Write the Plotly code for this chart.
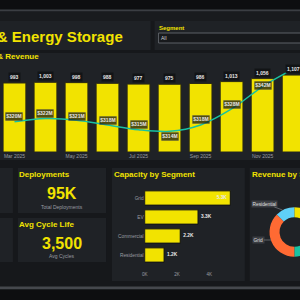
import plotly.graph_objects as go

# ---------------- data ----------------
months = ['Mar 2025', 'Apr 2025', 'May 2025', 'Jun 2025', 'Jul 2025',
          'Aug 2025', 'Sep 2025', 'Oct 2025', 'Nov 2025', 'Dec 2025']
deployments = [993, 1003, 998, 988, 977, 975, 986, 1013, 1056, 1107]
revenue_musd = [320, 322, 321, 318, 315, 314, 318, 328, 342, 353]
month_ticks = months[::2]

segments = ['Grid', 'EV', 'Commercial', 'Residential']
capacity_k = [5.3, 3.3, 2.2, 1.2]
capacity_ticks = [0, 2, 4]

rev_segments = ['Commercial', 'EV', 'Grid', 'Residential']
rev_segment_values = [640, 960, 1200, 400]

kpi_deployments = 95000
kpi_cycle_life = 3500

# ---------------- style ----------------
W, H = 330, 300
FONT = 'Liberation Sans, Arial, sans-serif'
YEL = '#f2e300'
TEAL = '#18c2a2'
ORANGE = '#ff6a33'
LBLUE = '#5fd0f7'
PANEL = '#1f2226'
GAP = '#16181b'
GRAYTXT = '#9a9da2'

rev_label_shift = [5, 5, 4, 4, 5, -5, 5, 4, 1, None]
cap_text_pos = ['inside', 'outside', 'outside', 'outside']
pie_label_pos = {'Residential': (282, 210, -17.5, -6.5), 'Grid': (270.5, 240, -13, 0)}
PADX = 2.5  # compensates the annotation box padding


def px(x):
    return x / W


def py(y):
    return 1 - y / H


def rect(x0, y0, x1, y1, color, line=None):
    return dict(type='rect', xref='paper', yref='paper', layer='below',
                x0=px(x0), x1=px(x1), y0=py(y1), y1=py(y0),
                fillcolor=color,
                line=dict(width=1 if line else 0, color=line or color))


def ann(text, x, y, size, color=YEL, bold=False, xanchor='left'):
    if xanchor == 'left':
        x -= PADX
    return dict(text=text, xref='paper', yref='paper', x=px(x), y=py(y),
                xanchor=xanchor, yanchor='middle', showarrow=False,
                font=dict(family=FONT, size=size, color=color,
                          weight='bold' if bold else 'normal'))


fig = go.Figure()

# main chart
fig.add_trace(go.Bar(x=months, y=deployments, xaxis='x', yaxis='y', width=0.735,
                     marker=dict(color=YEL, line=dict(color='#2b2a12', width=1)),
                     hoverinfo='skip'))
fig.add_trace(go.Scatter(x=months, y=revenue_musd, xaxis='x', yaxis='y2', mode='lines',
                         line=dict(color=TEAL, width=1.5, shape='spline'),
                         hoverinfo='skip'))

# capacity bars
fig.add_trace(go.Bar(x=capacity_k, y=segments, orientation='h', xaxis='x2', yaxis='y3',
                     width=0.75,
                     marker=dict(color=YEL, line=dict(color='#111214', width=1)),
                     texttemplate='%{x:.1f}K', textposition=cap_text_pos,
                     insidetextanchor='end', constraintext='none',
                     textfont=dict(family=FONT, size=4.8, color='#e8e8e8', weight='bold'),
                     cliponaxis=False, hoverinfo='skip'))

# donut
fig.add_trace(go.Pie(labels=rev_segments, values=rev_segment_values, hole=0.6,
                     sort=False, direction='clockwise', rotation=0,
                     marker=dict(colors=[YEL, TEAL, ORANGE, LBLUE], line=dict(width=0)),
                     textinfo='none', hoverinfo='skip',
                     domain=dict(x=[px(269), px(319)], y=[py(257), py(207)])))

shapes = [
    rect(-5, 0, W + 5, 9.5, '#0d0e10'),
    rect(-5, 9.5, W + 5, 11.5, '#3b3e43'),
    rect(-5, 11.5, W + 5, 21, '#191b1e'),
    rect(-5, 21, 149, 50, PANEL),
    rect(153, 21, W + 5, 50, PANEL),
    rect(157, 33, W + 5, 43, '#17191c', line='#5c6066'),
    rect(-5, 53, W + 5, 160, PANEL),
    rect(-5, 168, 10, 213, PANEL),
    rect(-5, 218, 10, 262, PANEL),
    rect(15, 168, 104, 213, PANEL),
    rect(15, 218, 104, 262, PANEL),
    rect(110, 168, 244, 281, PANEL),
    rect(249, 168, W + 5, 281, PANEL),
    rect(-5, 286.5, W + 5, 289.5, '#45484d'),
    rect(-5, 289.5, W + 5, 305, '#0d0e10'),
]

annotations = [
    ann('Battery & Energy Storage', 123, 36.5, 15, bold=True, xanchor='right'),
    ann('Segment', 158, 27.5, 6, bold=True),
    ann('All', 160, 38, 5, color='#d0d0d0'),
    ann('Monthly Deployments & Revenue', 38, 56.5, 8, bold=True, xanchor='right'),
    ann('Deployments', 17, 174, 8, bold=True),
    ann(f'{kpi_deployments // 1000}K', 59.5, 194, 16, bold=True, xanchor='center'),
    ann('Total Deployments', 59.5, 207, 5, color=GRAYTXT, xanchor='center'),
    ann('Avg Cycle Life', 17, 224, 8, bold=True),
    ann(f'{kpi_cycle_life:,}', 59.5, 243, 16, bold=True, xanchor='center'),
    ann('Avg Cycles', 59.5, 256, 5, color=GRAYTXT, xanchor='center'),
    ann('Capacity by Segment', 113, 174, 8, bold=True),
    ann('Revenue by Segment', 252, 174, 8, bold=True),
]

for m, v in zip(months, deployments):
    annotations.append(dict(text=f'{v:,}', x=m, y=v, xref='x', yref='y',
                            yanchor='middle', yshift=6, showarrow=False,
                            bgcolor='#121416', borderpad=1,
                            font=dict(family=FONT, size=5, color='#e6e6e6', weight='bold')))

for m, r, s in zip(months, revenue_musd, rev_label_shift):
    if s is None:
        continue
    annotations.append(dict(text=f'${r}M', x=m, y=r, xref='x', yref='y2',
                            yanchor='middle', yshift=s, showarrow=False,
                            bgcolor='rgba(18,20,22,0.72)', bordercolor='rgba(255,255,255,0.18)',
                            borderwidth=0.5, borderpad=0.8,
                            font=dict(family=FONT, size=5, color='#e6e6e6', weight='bold')))

for name in rev_segments:
    if name in pie_label_pos:
        tx, ty, ax, ay = pie_label_pos[name]
        annotations.append(dict(text=name, xref='paper', yref='paper', x=px(tx), y=py(ty),
                                ax=ax, ay=ay, showarrow=True, arrowhead=0, arrowwidth=0.6,
                                arrowcolor='#8a8d92', standoff=0,
                                bgcolor='#3a3d42', borderpad=0.6,
                                font=dict(family=FONT, size=4.8, color='#e0e0e0')))

axis_font = dict(family=FONT, size=5, color=GRAYTXT)

fig.update_layout(
    width=W, height=H, autosize=False,
    margin=dict(l=0, r=0, t=0, b=0, pad=0),
    paper_bgcolor=GAP, plot_bgcolor='rgba(0,0,0,0)',
    showlegend=False, font=dict(family=FONT),
    bargap=0.2,
    xaxis=dict(domain=[0, px(320)], anchor='y', type='category',
               range=[-0.37, -0.37 + 320 / 31.3],
               tickvals=month_ticks, ticks='', showgrid=False, zeroline=False,
               showline=False, tickfont=axis_font),
    yaxis=dict(domain=[py(152), py(60)], anchor='x', range=[0, 92 / 0.0695],
               visible=False),
    yaxis2=dict(overlaying='y', anchor='x', range=[301.1, 358.6], visible=False),
    xaxis2=dict(domain=[px(143), px(237)], anchor='y3', range=[0, 94 / 16.3],
                tickvals=capacity_ticks, ticktext=[f'{t}K' for t in capacity_ticks],
                ticks='', showgrid=False, zeroline=False, showline=False,
                tickfont=dict(family=FONT, size=4.6, color=GRAYTXT)),
    yaxis3=dict(domain=[py(270), py(188.5)], anchor='x2', type='category',
                categoryorder='array', categoryarray=segments,
                range=[3.79, -0.5], ticks='', showgrid=False, zeroline=False,
                showline=False, tickfont=dict(family=FONT, size=4.8, color=GRAYTXT)),
    shapes=shapes,
    annotations=annotations,
)

fig.write_html(
    'out.html',
    config={'displayModeBar': False},
    post_script="document.documentElement.style.overflow='hidden';"
                "document.body.style.overflow='hidden';document.body.style.margin='0';",
)
